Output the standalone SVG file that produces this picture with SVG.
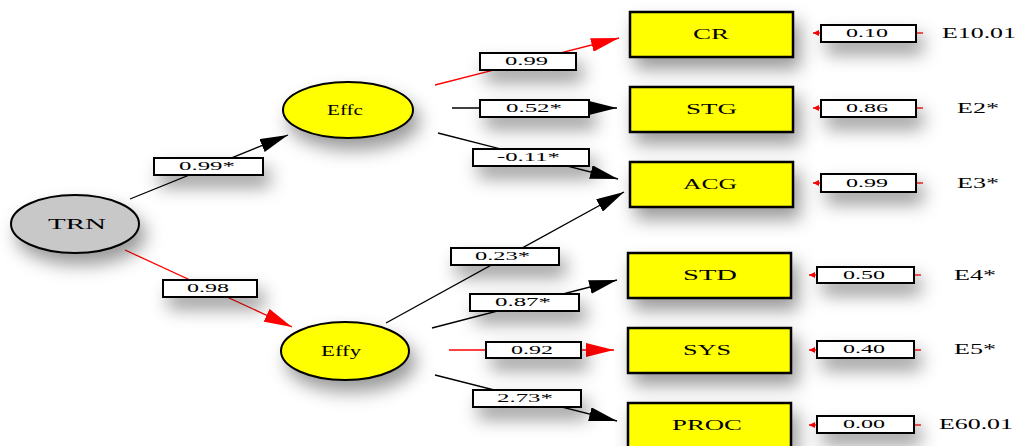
<svg xmlns="http://www.w3.org/2000/svg" width="1016" height="446" viewBox="0 0 1016 446">
<style>
.ov{stroke:#000;stroke-width:2}
.rb{fill:#ffff00;stroke:#000;stroke-width:2.5}
.lb{fill:#fff;stroke:#000;stroke-width:2}
.nt{font-family:"Liberation Serif","DejaVu Serif",serif;font-size:14px;fill:#000}
.lt{font-family:"Liberation Serif","DejaVu Serif",serif;font-size:13px;fill:#000}
.et{font-family:"Liberation Serif","DejaVu Serif",serif;font-size:14px;fill:#000}
.k{stroke:#000;stroke-width:1.3;fill:none}
.r{stroke:#ff0000;stroke-width:1.3;fill:none}
.sh{filter:url(#shadow)}
</style>
<defs>
<filter id="shadow" filterUnits="userSpaceOnUse" x="-50" y="-50" width="1116" height="546">
<feDropShadow dx="6" dy="11" stdDeviation="9" flood-color="#000" flood-opacity="0.4"/>
</filter>
<marker id="ak" markerUnits="userSpaceOnUse" markerWidth="28" markerHeight="14" refX="28" refY="7" orient="auto">
<path d="M0,0 L28,7 L0,14 Z" fill="#000"/>
</marker>
<marker id="ar" markerUnits="userSpaceOnUse" markerWidth="28" markerHeight="14" refX="28" refY="7" orient="auto">
<path d="M0,0 L28,7 L0,14 Z" fill="#ff0000"/>
</marker>
<marker id="sr" markerUnits="userSpaceOnUse" markerWidth="6" markerHeight="6" refX="6" refY="3" orient="auto">
<path d="M0,0 L6,3 L0,6 Z" fill="#ff0000"/>
</marker>
</defs>
<rect width="1016" height="446" fill="#fff"/>

<g id="connectors">
<line class="k" x1="130" y1="199" x2="288" y2="135" marker-end="url(#ak)"/>
<line class="r" x1="125" y1="250" x2="292" y2="327" marker-end="url(#ar)"/>
<line class="r" x1="435" y1="85" x2="619" y2="38" marker-end="url(#ar)"/>
<line class="k" x1="452" y1="108" x2="617" y2="108" marker-end="url(#ak)"/>
<line class="k" x1="438" y1="133" x2="618" y2="179" marker-end="url(#ak)"/>
<line class="k" x1="386" y1="323" x2="624" y2="192" marker-end="url(#ak)"/>
<line class="k" x1="432" y1="328" x2="617" y2="280" marker-end="url(#ak)"/>
<line class="r" x1="449" y1="350" x2="614" y2="350" marker-end="url(#ar)"/>
<line class="k" x1="435" y1="375" x2="617" y2="421" marker-end="url(#ak)"/>
<g id="error-stubs">
<line class="r" x1="821" y1="33" x2="813" y2="33" marker-end="url(#sr)"/>
<line class="r" x1="916" y1="33" x2="923" y2="33"/>
<line class="r" x1="821" y1="108" x2="813" y2="108" marker-end="url(#sr)"/>
<line class="r" x1="916" y1="108" x2="923" y2="108"/>
<line class="r" x1="821" y1="183" x2="813" y2="183" marker-end="url(#sr)"/>
<line class="r" x1="916" y1="183" x2="923" y2="183"/>
<line class="r" x1="817" y1="275" x2="809" y2="275" marker-end="url(#sr)"/>
<line class="r" x1="914" y1="275" x2="921" y2="275"/>
<line class="r" x1="817" y1="350" x2="809" y2="350" marker-end="url(#sr)"/>
<line class="r" x1="914" y1="350" x2="921" y2="350"/>
<line class="r" x1="817" y1="425" x2="809" y2="425" marker-end="url(#sr)"/>
<line class="r" x1="914" y1="425" x2="921" y2="425"/>
</g>
<g id="path-labels">
<rect class="lb sh" x="154" y="158" width="109" height="17"/><text class="lt" x="179" y="170" textLength="56" lengthAdjust="spacingAndGlyphs">0.99*</text>
<rect class="lb sh" x="163" y="280" width="94" height="17"/><text class="lt" x="187" y="292" textLength="42" lengthAdjust="spacingAndGlyphs">0.98</text>
<rect class="lb sh" x="480" y="53" width="96" height="17"/><text class="lt" x="505" y="65" textLength="43" lengthAdjust="spacingAndGlyphs">0.99</text>
<rect class="lb sh" x="480" y="100" width="109" height="17"/><text class="lt" x="506" y="112" textLength="56" lengthAdjust="spacingAndGlyphs">0.52*</text>
<rect class="lb sh" x="473" y="149" width="116" height="17"/><text class="lt" x="497" y="161" textLength="63" lengthAdjust="spacingAndGlyphs">-0.11*</text>
<rect class="lb sh" x="451" y="248" width="108" height="17"/><text class="lt" x="475" y="260" textLength="55" lengthAdjust="spacingAndGlyphs">0.23*</text>
<rect class="lb sh" x="470" y="294" width="109" height="17"/><text class="lt" x="495" y="306" textLength="56" lengthAdjust="spacingAndGlyphs">0.87*</text>
<rect class="lb sh" x="486" y="342" width="95" height="16"/><text class="lt" x="511" y="354" textLength="42" lengthAdjust="spacingAndGlyphs">0.92</text>
<rect class="lb sh" x="473" y="390" width="108" height="17"/><text class="lt" x="497" y="402" textLength="56" lengthAdjust="spacingAndGlyphs">2.73*</text>
</g>
</g>

<g id="TRN"><ellipse class="ov sh" cx="75" cy="224" rx="64" ry="29" fill="#c8c8c8"/><text class="nt" x="48" y="229" textLength="58" lengthAdjust="spacingAndGlyphs">TRN</text></g>
<g id="Effc"><ellipse class="ov sh" cx="348" cy="110" rx="65" ry="28" fill="#ffff00"/><text class="nt" x="327" y="115" textLength="36" lengthAdjust="spacingAndGlyphs">Effc</text></g>
<g id="Effy"><ellipse class="ov sh" cx="345" cy="351" rx="64" ry="29" fill="#ffff00"/><text class="nt" x="321" y="356" textLength="40" lengthAdjust="spacingAndGlyphs">Effy</text></g>

<g id="CR"><rect class="rb sh" x="630" y="12" width="163" height="45"/><text class="nt" x="693" y="39" textLength="36" lengthAdjust="spacingAndGlyphs">CR</text></g>
<g id="STG"><rect class="rb sh" x="630" y="87" width="163" height="45"/><text class="nt" x="686" y="114" textLength="51" lengthAdjust="spacingAndGlyphs">STG</text></g>
<g id="ACG"><rect class="rb sh" x="630" y="162" width="163" height="45"/><text class="nt" x="683" y="189" textLength="54" lengthAdjust="spacingAndGlyphs">ACG</text></g>
<g id="STD"><rect class="rb sh" x="628" y="253" width="163" height="45"/><text class="nt" x="683" y="280" textLength="54" lengthAdjust="spacingAndGlyphs">STD</text></g>
<g id="SYS"><rect class="rb sh" x="628" y="328" width="163" height="45"/><text class="nt" x="683" y="355" textLength="48" lengthAdjust="spacingAndGlyphs">SYS</text></g>
<g id="PROC"><rect class="rb sh" x="628" y="403" width="163" height="45"/><text class="nt" x="672" y="430" textLength="70" lengthAdjust="spacingAndGlyphs">PROC</text></g>

<g id="E1"><rect class="lb sh" x="821" y="25" width="95" height="17"/><text class="lt" x="846" y="37" textLength="42" lengthAdjust="spacingAndGlyphs">0.10</text><text class="et" x="942" y="38" textLength="74" lengthAdjust="spacingAndGlyphs">E10.01</text></g>
<g id="E2"><rect class="lb sh" x="821" y="100" width="95" height="17"/><text class="lt" x="846" y="112" textLength="42" lengthAdjust="spacingAndGlyphs">0.86</text><text class="et" x="957" y="113" textLength="42" lengthAdjust="spacingAndGlyphs">E2*</text></g>
<g id="E3"><rect class="lb sh" x="821" y="174" width="95" height="18"/><text class="lt" x="846" y="187" textLength="42" lengthAdjust="spacingAndGlyphs">0.99</text><text class="et" x="957" y="188" textLength="42" lengthAdjust="spacingAndGlyphs">E3*</text></g>
<g id="E4"><rect class="lb sh" x="817" y="267" width="97" height="16"/><text class="lt" x="843" y="279" textLength="42" lengthAdjust="spacingAndGlyphs">0.50</text><text class="et" x="954" y="280" textLength="42" lengthAdjust="spacingAndGlyphs">E4*</text></g>
<g id="E5"><rect class="lb sh" x="817" y="341" width="97" height="17"/><text class="lt" x="843" y="353" textLength="42" lengthAdjust="spacingAndGlyphs">0.40</text><text class="et" x="954" y="354" textLength="42" lengthAdjust="spacingAndGlyphs">E5*</text></g>
<g id="E6"><rect class="lb sh" x="817" y="416" width="97" height="17"/><text class="lt" x="843" y="428" textLength="42" lengthAdjust="spacingAndGlyphs">0.00</text><text class="et" x="939" y="429" textLength="74" lengthAdjust="spacingAndGlyphs">E60.01</text></g>
</svg>
